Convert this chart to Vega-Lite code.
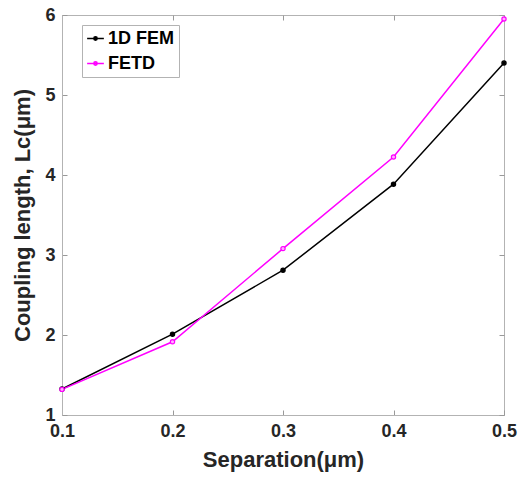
{
  "$schema": "https://vega.github.io/schema/vega-lite/v6.json",
  "width": 442,
  "height": 400,
  "autosize": {"type": "none"},
  "padding": {"left": 62, "top": 15, "right": 17, "bottom": 64},
  "background": "white",
  "config": {
    "view": {"stroke": "#b3b3b3", "strokeWidth": 1},
    "font": "Liberation Sans",
    "axis": {
      "grid": false,
      "labelFlush": false,
      "domainColor": "#b3b3b3",
      "tickColor": "#999999",
      "labelColor": "#262626",
      "titleColor": "#262626",
      "labelFont": "Liberation Sans",
      "titleFont": "Liberation Sans",
      "labelFontWeight": "bold",
      "titleFontWeight": "bold",
      "labelFontSize": 18,
      "titleFontSize": 22
    }
  },
  "data": {
    "values": [
      {"sep": 0.1, "Lc": 1.325, "method": "1D FEM"},
      {"sep": 0.2, "Lc": 2.01, "method": "1D FEM"},
      {"sep": 0.3, "Lc": 2.81, "method": "1D FEM"},
      {"sep": 0.4, "Lc": 3.885, "method": "1D FEM"},
      {"sep": 0.5, "Lc": 5.40, "method": "1D FEM"},
      {"sep": 0.1, "Lc": 1.32, "method": "FETD"},
      {"sep": 0.2, "Lc": 1.915, "method": "FETD"},
      {"sep": 0.3, "Lc": 3.08, "method": "FETD"},
      {"sep": 0.4, "Lc": 4.225, "method": "FETD"},
      {"sep": 0.5, "Lc": 5.95, "method": "FETD"}
    ]
  },
  "layer": [
    {
      "mark": {"type": "line", "strokeWidth": 1.5, "clip": false},
      "encoding": {
        "x": {
          "field": "sep", "type": "quantitative",
          "scale": {"domain": [0.1, 0.5], "nice": false, "zero": false},
          "axis": {"orient": "bottom", "values": [0.1, 0.2, 0.3, 0.4, 0.5], "format": ".1f", "title": "Separation(μm)", "tickSize": -5, "labelPadding": 12, "titlePadding": 9}
        },
        "y": {
          "field": "Lc", "type": "quantitative",
          "scale": {"domain": [1, 6], "nice": false, "zero": false},
          "axis": {"orient": "left", "values": [1, 2, 3, 4, 5, 6], "format": "d", "title": "Coupling length, Lc(μm)", "tickSize": -5, "labelPadding": 12, "titlePadding": 10}
        },
        "color": {
          "field": "method", "type": "nominal",
          "scale": {"domain": ["1D FEM", "FETD"], "range": ["#000000", "#ff00ff"]},
          "legend": {
            "title": null,
            "orient": "none",
            "legendX": 20,
            "legendY": 10,
            "fillColor": "white",
            "strokeColor": "#b3b3b3",
            "padding": 4,
            "labelFont": "Liberation Sans",
            "labelFontWeight": "bold",
            "labelFontSize": 18,
            "labelColor": "#000000",
            "symbolType": "M-1,0L1,0M-0.2,0a0.2,0.2 0 1,0 0.4,0a0.2,0.2 0 1,0 -0.4,0",
            "symbolSize": 280,
            "symbolStrokeWidth": 1.5,
            "labelOffset": 3,
            "rowPadding": 6,
            "encode": {"symbols": {"update": {"fill": {"signal": "datum.value === 'FETD' ? '#ffb0ff' : '#000000'"}, "fillOpacity": {"value": 1}}}}
          }
        }
      }
    },
    {
      "mark": {"type": "point", "opacity": 0},
      "encoding": {
        "x": {"field": "sep", "type": "quantitative", "scale": {"domain": [0.1, 0.5], "nice": false, "zero": false}, "axis": {"orient": "top", "values": [0.1, 0.2, 0.3, 0.4, 0.5], "labels": false, "title": null, "tickSize": -5, "domain": false}},
        "y": {"field": "Lc", "type": "quantitative", "scale": {"domain": [1, 6], "nice": false, "zero": false}, "axis": {"orient": "right", "values": [1, 2, 3, 4, 5, 6], "labels": false, "title": null, "tickSize": -5, "domain": false}}
      }
    },
    {
      "mark": {"type": "point", "shape": "circle", "size": 18, "strokeWidth": 1.2, "opacity": 1, "filled": false, "clip": false},
      "encoding": {
        "x": {"field": "sep", "type": "quantitative", "scale": {"domain": [0.1, 0.5], "nice": false, "zero": false}, "axis": null},
        "y": {"field": "Lc", "type": "quantitative", "scale": {"domain": [1, 6], "nice": false, "zero": false}, "axis": null},
        "stroke": {"field": "method", "type": "nominal", "scale": {"domain": ["1D FEM", "FETD"], "range": ["#000000", "#ff00ff"]}, "legend": null},
        "fill": {"field": "method", "type": "nominal", "scale": {"domain": ["1D FEM", "FETD"], "range": ["#000000", "#ffb0ff"]}, "legend": null}
      }
    }
  ],
  "resolve": {"scale": {"x": "independent", "y": "independent", "stroke": "independent", "fill": "independent"}, "axis": {"x": "independent", "y": "independent"}}
}
